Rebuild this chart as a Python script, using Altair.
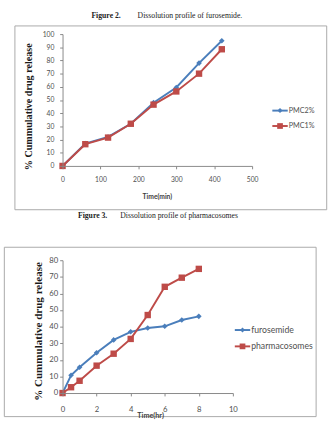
import altair as alt
import pandas as pd

# ---- Figure 2: dissolution profile of furosemide (time in minutes) ----
f2_time = [0, 60, 120, 180, 240, 300, 360, 420]
f2_pmc2 = [0, 17, 22, 32, 48, 59.5, 78, 95]
f2_pmc1 = [0, 16.5, 21.5, 32, 46.5, 56.5, 70, 88.5]
f2_names = ["PMC2%", "PMC1%"]
f2_xticks = [0, 100, 200, 300, 400, 500]
f2_yticks = [0, 10, 20, 30, 40, 50, 60, 70, 80, 90, 100]

# ---- Figure 3: dissolution profile of pharmacosomes (time in hours) ----
f3_time = [0, 0.5, 1, 2, 3, 4, 5, 6, 7, 8]
f3_furo = [0, 10.7, 15.5, 24.3, 32, 36.9, 39.2, 40.2, 44, 46.2]
f3_pharma = [0, 3.5, 7.4, 16.5, 23.7, 32.6, 47, 64, 69.5, 74.8]
f3_names = ["furosemide", "pharmacosomes"]
f3_xticks = [0, 2, 4, 6, 8, 10]
f3_yticks = [0, 10, 20, 30, 40, 50, 60, 70, 80]

fig_labels = ["Figure 2.", "Figure 3."]
fig_texts = ["Dissolution profile of furosemide.", "Dissolution profile of pharmacosomes"]
y_title = "% Cummulative drug release"
x_titles = ["Time(min)", "Time(hr)"]

BLUE = "#4a7ebb"
RED = "#be4b48"
AXIS_GREY = "#868686"
LABEL_GREY = "#505050"
BOX_GREY = "#a8a8a8"
SANS = "Lato"
SERIF = "Liberation Serif"

COLORS = [BLUE, RED]
SHAPES = ["diamond", "square"]
SIZES = [34, 44]


def one(values):
    return alt.Data(values=[values])


def panel(times, series, names, xdom, xticks, ydom, yticks, W, H, origin,
          page_top, page_bottom, box, cap_idx, cap_x, cap_y,
          xtitle_pos, ytitle_pos, ytitle_size, tick_size, ylab_pad, xlab_pad,
          xtitle_size, leg_x, leg_y, leg_step, leg_size):
    ox, oy = origin
    x_enc = alt.X(
        "t:Q",
        scale=alt.Scale(domain=xdom, nice=False, zero=False),
        axis=alt.Axis(
            values=xticks, grid=False, title=x_titles[cap_idx],
            titleX=xtitle_pos[0], titleY=xtitle_pos[1],
            titleBaseline="middle", titleAlign="center",
            titleFont=SANS, titleFontSize=xtitle_size, titleFontWeight="bold",
            titleColor="#404040",
            labelFont=SANS, labelFontSize=tick_size, labelColor=LABEL_GREY,
            labelPadding=xlab_pad, tickSize=3, tickColor=AXIS_GREY,
            domainColor=AXIS_GREY, labelFlush=False, zindex=1,
        ),
    )
    y_enc = alt.Y(
        "v:Q",
        scale=alt.Scale(domain=ydom, nice=False),
        axis=alt.Axis(
            values=yticks, grid=False, title=y_title,
            titleX=ytitle_pos[0], titleY=ytitle_pos[1],
            titleBaseline="middle", titleAlign="center",
            titleFont=SERIF, titleFontSize=ytitle_size, titleFontWeight="bold",
            titleColor="#1a1a1a",
            labelFont=SANS, labelFontSize=tick_size, labelColor=LABEL_GREY,
            labelPadding=ylab_pad, tickSize=3, tickColor=AXIS_GREY,
            domainColor=AXIS_GREY, labelFlush=False, zindex=1,
        ),
    )

    layers = []
    # invisible frame that fixes this panel's share of the page
    layers.append(
        alt.Chart(one({"k": "frame"})).mark_rect(fill="transparent").encode(
            x=alt.value(-ox), x2=alt.value(332 - ox),
            y=alt.value(page_top - oy), y2=alt.value(page_bottom - oy),
        )
    )
    # chart-area border, drawn as four thin rules
    bx1, by1, bx2, by2 = [v + 0.5 for v in box]
    x1, x2, y1, y2 = bx1 - ox, bx2 - ox, by1 - oy, by2 - oy
    edge = alt.Chart(one({"k": "border"})).mark_rule(color=BOX_GREY, strokeWidth=1)
    layers.append(edge.encode(x=alt.value(x1), x2=alt.value(x2), y=alt.value(y1)))
    layers.append(edge.encode(x=alt.value(x1), x2=alt.value(x2), y=alt.value(y2)))
    layers.append(edge.encode(x=alt.value(x1), y=alt.value(y1), y2=alt.value(y2)))
    layers.append(edge.encode(x=alt.value(x2), y=alt.value(y1), y2=alt.value(y2)))

    # series lines and markers
    for name, vals, col, shp, sz in zip(names, series, COLORS, SHAPES, SIZES):
        df = pd.DataFrame({"t": times, "v": vals, "s": name})
        base = alt.Chart(df)
        layers.append(base.mark_line(color=col, strokeWidth=2).encode(x=x_enc, y=y_enc))
        layers.append(
            base.mark_point(shape=shp, size=sz, filled=True, color=col, opacity=1)
            .encode(x=x_enc, y=y_enc)
        )

    # caption above the chart
    layers.append(
        alt.Chart(one({"c": fig_labels[cap_idx]})).mark_text(
            align="left", baseline="middle", font=SERIF, fontSize=8,
            fontWeight="bold", color="#222222",
        ).encode(x=alt.value(cap_x[0] - ox), y=alt.value(cap_y - oy), text="c:N")
    )
    layers.append(
        alt.Chart(one({"c": fig_texts[cap_idx]})).mark_text(
            align="left", baseline="middle", font=SERIF, fontSize=8, color="#222222",
        ).encode(x=alt.value(cap_x[1] - ox), y=alt.value(cap_y - oy), text="c:N")
    )

    # legend: line with marker, then the series name
    for i, (name, col, shp, sz) in enumerate(zip(names, COLORS, SHAPES, SIZES)):
        ly = leg_y + i * leg_step - oy
        lx = leg_x - ox
        d = one({"label": name})
        layers.append(
            alt.Chart(d).mark_rule(color=col, strokeWidth=2).encode(
                x=alt.value(lx), x2=alt.value(lx + 16), y=alt.value(ly)
            )
        )
        layers.append(
            alt.Chart(d).mark_point(shape=shp, size=sz * 0.8, filled=True, color=col, opacity=1)
            .encode(x=alt.value(lx + 8), y=alt.value(ly))
        )
        layers.append(
            alt.Chart(d).mark_text(
                align="left", baseline="middle", font=SANS, fontSize=leg_size, color=LABEL_GREY,
            ).encode(x=alt.value(lx + 17), y=alt.value(ly), text="label:N")
        )

    return alt.layer(*layers).properties(width=W, height=H)


p1 = panel(
    f2_time, [f2_pmc2, f2_pmc1], f2_names,
    xdom=[0, 500], xticks=f2_xticks, ydom=[0, 100], yticks=f2_yticks,
    W=197, H=137, origin=(53, 26), page_top=0, page_bottom=209,
    box=(3, 17, 327, 208), cap_idx=0, cap_x=(83, 131), cap_y=7,
    xtitle_pos=(98, 32), ytitle_pos=(-35, 75), ytitle_size=10.5,
    tick_size=7, ylab_pad=6, xlab_pad=7, xtitle_size=7,
    leg_x=271, leg_y=105.5, leg_step=16, leg_size=7.5,
)

p2 = panel(
    f3_time, [f3_furo, f3_pharma], f3_names,
    xdom=[0, 10], xticks=f3_xticks, ydom=[0, 80], yticks=f3_yticks,
    W=177, H=138, origin=(64, 259), page_top=209, page_bottom=427,
    box=(3, 245, 327, 421), cap_idx=1, cap_x=(80, 124), cap_y=213,
    xtitle_pos=(91, 23), ytitle_pos=(-25, 73.5), ytitle_size=11.5,
    tick_size=8, ylab_pad=2, xlab_pad=10, xtitle_size=7.5,
    leg_x=243, leg_y=331.5, leg_step=17, leg_size=9,
)

chart = (
    alt.vconcat(p1, p2, spacing=0)
    .properties(padding=0, background="white")
    .configure_view(stroke="transparent")
)

chart.save("out.html", embed_options={"renderer": "svg", "actions": False})
